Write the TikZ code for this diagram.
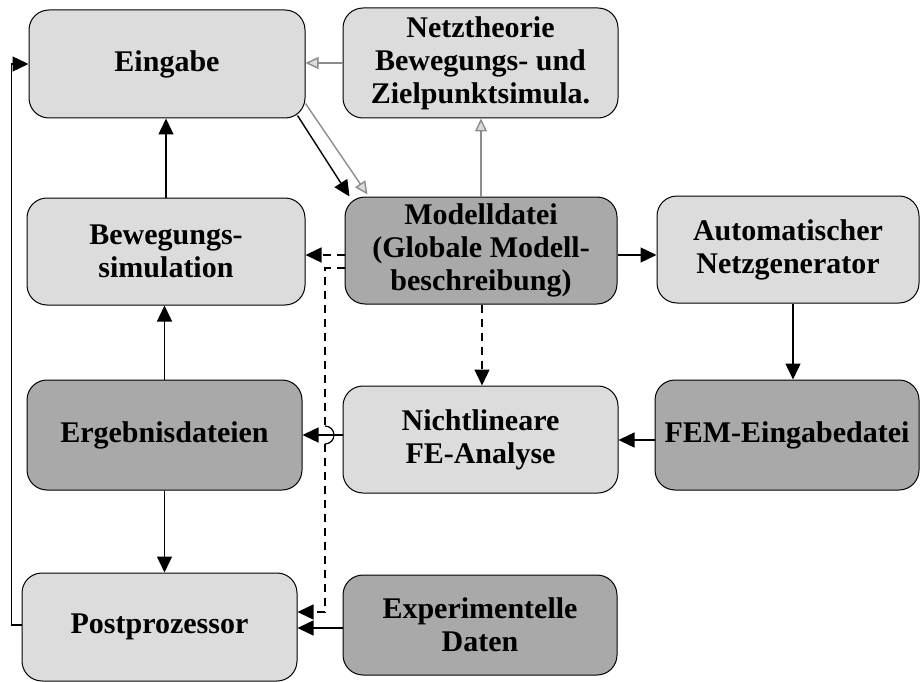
\documentclass[tikz,border=0pt]{standalone}
\usepackage{fontspec}
\setmainfont{Liberation Serif}
\usetikzlibrary{arrows.meta,calc}
\definecolor{lightbox}{HTML}{DCDCDC}
\definecolor{darkbox}{HTML}{A9A9A9}
\definecolor{grayarrow}{HTML}{8C8C8C}
\tikzset{
  box/.style={draw=black, line width=1pt, rounded corners=20pt, align=center,
    font=\fontsize{30}{33}\selectfont\bfseries, inner sep=0pt},
  lightfill/.style={box, fill=lightbox},
  darkfill/.style={box, fill=darkbox},
  arr/.style={line width=1.4pt, -{Triangle[length=16pt,width=15pt]}},
  garr/.style={line width=1.4pt, draw=grayarrow, -{Triangle[length=13pt,width=12pt,open,fill=lightbox]}},
  darr/.style={arr, dash pattern=on 8pt off 6pt},
  dline/.style={line width=1.4pt, dash pattern=on 8pt off 6pt},
}
\begin{document}
\begin{tikzpicture}[x=1pt,y=-1pt]
\useasboundingbox (0,0) rectangle (921,682);
\node[lightfill, minimum width=276pt, minimum height=108pt] (ein) at (167,64) {Eingabe};
\node[lightfill, minimum width=275pt, minimum height=110pt] (netz) at (480.5,63) {Netztheorie\\Bewegungs- und\\Zielpunktsimula.};
\node[lightfill, minimum width=278pt, minimum height=107pt] (bew) at (166,251.5) {Bewegungs-\\simulation};
\node[darkfill, minimum width=272pt, minimum height=107pt] (mod) at (481,250.5) {Modelldatei\\(Globale Modell-\\beschreibung)};
\node[lightfill, minimum width=262pt, minimum height=107pt] (auto) at (788,249.5) {Automatischer\\Netzgenerator};
\node[darkfill, minimum width=275pt, minimum height=110pt] (erg) at (164.5,435) {Ergebnisdateien};
\node[lightfill, minimum width=275pt, minimum height=107pt] (fe) at (480.5,439.5) {Nichtlineare\\FE-Analyse};
\node[darkfill, minimum width=264pt, minimum height=110pt] (fem) at (787,435) {FEM-Eingabedatei};
\node[lightfill, minimum width=275pt, minimum height=108pt] (post) at (159.5,627) {Postprozessor};
\node[darkfill, minimum width=274pt, minimum height=100pt] (exp) at (480,625) {Experimentelle\\Daten};

% vertical left column
\draw[arr] (bew.north) -- (bew.north |- ein.south);
\draw[arr] (erg.north) -- (erg.north |- bew.south);
\draw[arr] (erg.south) -- (erg.south |- post.north);
% feedback loop
\draw[arr] ([yshift=2pt]post.west) -- ++(-10,0) |- (ein.west);
% Eingabe to Modelldatei
\draw[arr] ([xshift=-8pt,yshift=3pt]ein.south east) -- ([xshift=5pt]mod.north west);
\draw[garr] ([yshift=15pt]ein.south east) -- ([xshift=23pt,yshift=2pt]mod.north west);
% gray arrows
\draw[garr] (netz.west) -- (netz.west -| ein.east);
\draw[garr] (mod.north) -- (mod.north |- netz.south);
% Modelldatei connections
\draw[darr] ([yshift=-4.5pt]mod.west) -- ([yshift=-4.5pt]mod.west -| bew.east);
\draw[arr] ([yshift=-4.5pt]mod.east) -- ([yshift=-4.5pt]mod.east -| auto.west);
\draw[darr] ([xshift=1pt]mod.south) -- ([xshift=1pt]mod.south |- fe.north);
\draw[arr] ([xshift=5pt]auto.south) -- ([xshift=5pt]auto.south |- fem.north);
\draw[arr] ([yshift=-5pt]fem.west) -- ([yshift=-5pt]fem.west -| fe.east);
\draw[arr] ([yshift=4.5pt]fe.west) -- ([yshift=4.5pt]fe.west -| erg.east);
\draw[arr] ([yshift=-3pt]exp.west) -- ([yshift=-3pt]exp.west -| post.east);
% dashed long path with hop
\coordinate (c1) at (325,268);
\coordinate (c2) at (325,426);
\coordinate (c3) at (325,444);
\coordinate (c4) at (325,612);
\draw[dline] ([yshift=-17.5pt]mod.west) -- (c1) -- (c2);
\draw[line width=1.2pt] (c2) arc[start angle=90, end angle=-90, radius=9pt];
\draw[darr] (c3) -- (c4) -- (c4 -| post.east);
\end{tikzpicture}
\end{document}
